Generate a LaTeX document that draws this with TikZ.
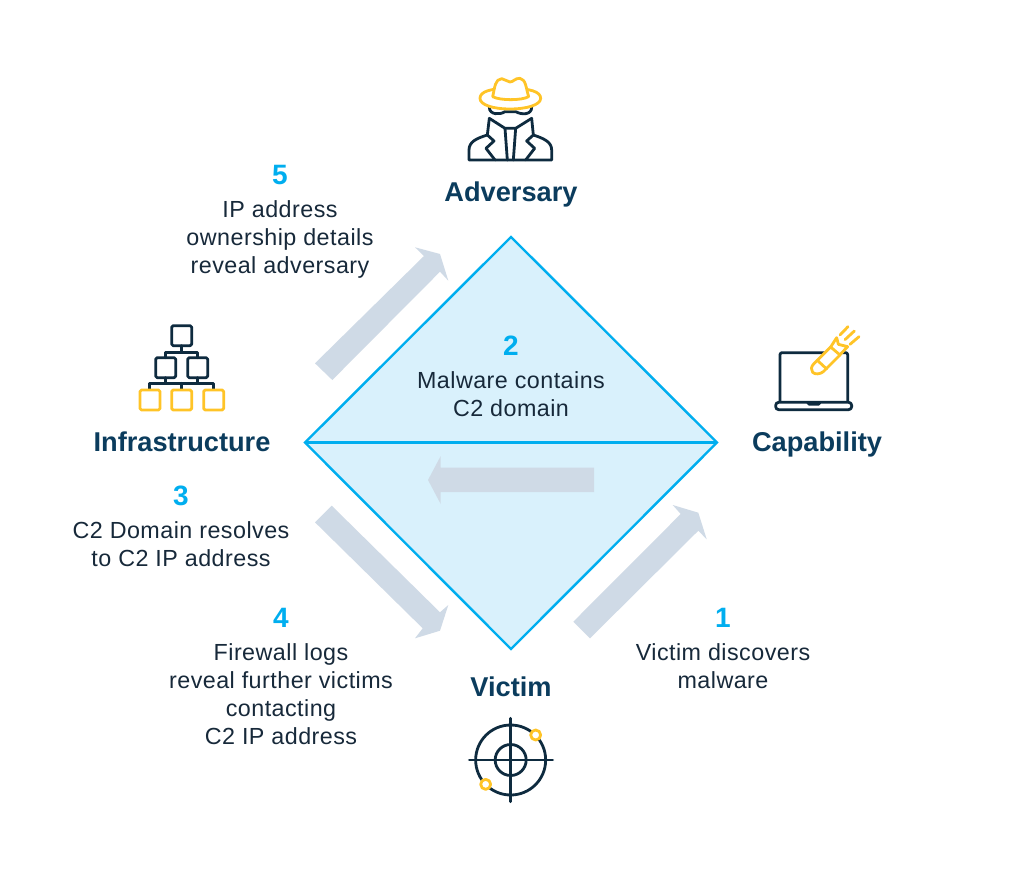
\documentclass[tikz,border=0pt]{standalone}
\usepackage{fontspec}
\setmainfont{Liberation Sans}
\definecolor{navy}{HTML}{0E2B3F}
\definecolor{gold}{HTML}{FFC427}
\definecolor{sky}{HTML}{00AEEF}
\definecolor{pale}{HTML}{D9F1FC}
\definecolor{slate}{HTML}{CFDAE6}
\definecolor{head}{HTML}{0B3C5D}
\definecolor{body}{HTML}{17293A}
\tikzset{
  x=1pt,y=-1pt,
  heading/.style={font=\bfseries\fontsize{27.2}{30}\selectfont,text=head,inner sep=0pt,anchor=base},
  numeral/.style={font=\bfseries\fontsize{28}{30}\selectfont,text=sky,inner sep=0pt},
  caption/.style={font=\fontsize{23.3}{28}\selectfont\addfontfeatures{LetterSpace=2},text=body,align=center,inner sep=0pt},
  flow/.style={fill=slate,draw=none},
  ink/.style={draw=navy,line width=2.8pt,line join=round,line cap=round},
  glow/.style={draw=gold,line width=2.8pt,line join=round,line cap=round,fill=white},
}
\begin{document}
\begin{tikzpicture}
\useasboundingbox (0,0) rectangle (1024,886);
\fill[white] (0,0) rectangle (1024,886);
% diamond
\fill[pale] (511,237) -- (717,442.5) -- (511,649) -- (305,442.5) -- cycle;
\draw[sky,line width=2.4pt,line join=miter] (511,237) -- (717,442.5) -- (511,649) -- (305,442.5) -- cycle;
\draw[sky,line width=2.4pt] (305,442.5) -- (717,442.5);
% flow arrows
\fill[flow] (415,247.3) -- (440,254) -- (448.3,280.7) -- (440,271.7) -- (332.3,380) -- (315,363.3) -- (424,256) -- cycle;
\fill[flow] (315,522.3) -- (331.7,505.7) -- (440,612.3) -- (448.3,605) -- (440,630.7) -- (415,638.3) -- (422.7,628.3) -- cycle;
\fill[flow] (573.3,621.7) -- (590,638.3) -- (698.3,530.7) -- (706.7,539.3) -- (698.3,512.7) -- (672.7,505) -- (680.7,514) -- cycle;
\fill[flow] (594,467.7) -- (440.7,467.7) -- (440.7,456) -- (428,480) -- (440.7,504) -- (440.7,492) -- (594,492) -- cycle;
% headings
\node[heading] (adversary) at (511,201.5) {Adversary};
\node[heading] (infrastructure) at (182,451.5) {Infrastructure};
\node[heading] (capability) at (817,451.5) {Capability};
\node[heading] (victim) at (511,696.5) {Victim};
% numerals and captions
\node[numeral] (n5) at (280,175) {5};
\node[caption] (c5) at (280,239.5) {IP address\\ownership details\\reveal adversary};
\node[numeral] (n2) at (511,346) {2};
\node[caption] (c2) at (511,394) {Malware contains\\C2 domain};
\node[numeral] (n3) at (181,496) {3};
\node[caption] (c3) at (181,544) {C2 Domain resolves\\to C2 IP address};
\node[numeral] (n4) at (281,618) {4};
\node[caption] (c4) at (281,694) {Firewall logs\\reveal further victims\\contacting\\C2 IP address};
\node[numeral] (n1) at (723,618) {1};
\node[caption] (c1) at (723,666) {Victim discovers\\malware};
% adversary icon
\begin{scope}[shift={(450,70)},x=0.3333pt,y=-0.3333pt]
\draw[ink] (118,112) .. controls (118,135) and (150,135) .. (165,125) -- (197,125) .. controls (215,135) and (245,135) .. (245,112);
\draw[ink] (118,145) -- (165,175) -- (197,175) -- (245,145);
\draw[ink] (118,145) -- (112,195) -- (132,213) -- (108,235) -- (135,270);
\draw[ink] (245,145) -- (250,195) -- (230,213) -- (254,235) -- (227,270);
\draw[ink] (165,175) -- (172,270);
\draw[ink] (197,175) -- (190,270);
\draw[ink] (112,195) .. controls (80,205) and (57,215) .. (57,240) -- (57,270) -- (305,270) -- (305,240) .. controls (305,215) and (280,205) .. (250,195);
\draw[glow] (180,55) .. controls (120,55) and (90,65) .. (90,85) .. controls (90,105) and (130,117) .. (180,117) .. controls (230,117) and (272,105) .. (272,85) .. controls (272,65) and (240,55) .. (180,55) -- cycle;
\draw[glow] (128,80) .. controls (135,50) and (135,28) .. (155,26) .. controls (165,26) and (170,36) .. (180,36) .. controls (190,36) and (195,24) .. (210,25) .. controls (228,28) and (228,55) .. (236,80) .. controls (215,92) and (150,92) .. (128,80) -- cycle;
\end{scope}
% infrastructure icon
\begin{scope}[shift={(125,315)},x=0.3333pt,y=-0.3333pt]
\draw[ink,rounded corners=1.5pt] (140,32) rectangle (200,92);
\draw[ink,rounded corners=1.5pt] (92,128) rectangle (152,188);
\draw[ink,rounded corners=1.5pt] (188,128) rectangle (248,188);
\draw[ink] (170,92) -- (170,112);
\draw[ink] (122,128) -- (122,112) -- (218,112) -- (218,128);
\draw[ink] (122,188) -- (122,205);
\draw[ink] (218,188) -- (218,205);
\draw[ink] (74,225) -- (74,205) -- (266,205) -- (266,225);
\draw[ink] (170,205) -- (170,225);
\draw[glow,rounded corners=1.5pt] (45,225) rectangle (105,285);
\draw[glow,rounded corners=1.5pt] (140,225) rectangle (200,285);
\draw[glow,rounded corners=1.5pt] (236,225) rectangle (296,285);
\end{scope}
% capability icon
\begin{scope}[shift={(765,315)},x=0.3333pt,y=-0.3333pt]
\draw[ink,rounded corners=2pt] (45,260) -- (45,113) -- (248,113) -- (248,260);
\draw[ink,rounded corners=3pt] (32,262) rectangle (260,284);
\draw[ink] (128,263) -- (133,268) -- (160,268) -- (165,263);
\draw[glow] (197,96) -- (215,68) -- (220,88) -- (248,95) -- (222,122);
\draw[glow] (143,172) .. controls (137,165) and (138,155) .. (146,147) -- (197,96) -- (225,120) -- (175,170) .. controls (165,178) and (150,179) .. (143,172) -- cycle;
\draw[glow] (157,136) -- (185,162);
\draw[glow] (225,60) -- (249,35);
\draw[glow] (240,74) -- (268,48);
\draw[glow] (255,88) -- (282,65);
\end{scope}
% victim icon
\begin{scope}[shift={(460,710)},x=0.3333pt,y=-0.3333pt]
\draw[ink] (152,150) circle[radius=35pt];
\draw[ink] (152,150) circle[radius=15.5pt];
\draw[ink] (28,150) -- (278,150);
\draw[ink] (152,25) -- (152,275);
\draw[glow] (227,75) circle[radius=5pt];
\draw[glow] (77,223) circle[radius=5pt];
\end{scope}
\end{tikzpicture}
\end{document}
